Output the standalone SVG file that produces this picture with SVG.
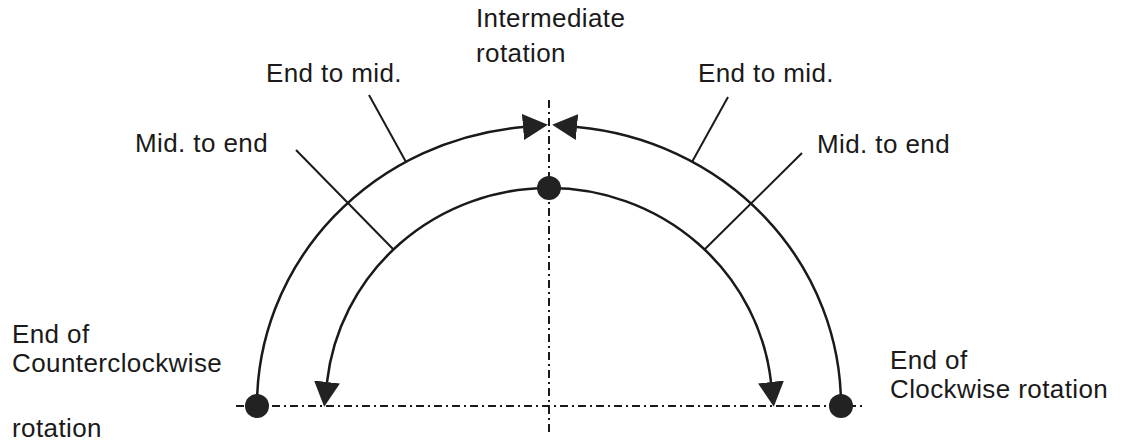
<svg xmlns="http://www.w3.org/2000/svg" width="1124" height="446" viewBox="0 0 1124 446">
<style>
  .lbl { font-family: "Liberation Sans", Arial, sans-serif; font-size: 26px; letter-spacing: 0.4px; fill: #1a1a1a; }
  .arc { fill: none; stroke: #1a1a1a; stroke-width: 2.5; }
  .lead { fill: none; stroke: #1a1a1a; stroke-width: 2; }
  .axis { fill: none; stroke: #1a1a1a; stroke-width: 2; stroke-dasharray: 8 4 2 4; }
  .dot { fill: #222; }
</style>
<defs>
  <marker id="arrow" markerUnits="userSpaceOnUse" viewBox="0 0 25 26" refX="0" refY="13" markerWidth="25" markerHeight="26" orient="auto">
    <path d="M0,0 L25,13 L0,26 z" fill="#222"/>
  </marker>
</defs>
<rect width="1124" height="446" fill="#ffffff"/>
<g id="axes">
  <line class="axis" x1="236" y1="406" x2="862" y2="406"/>
  <line class="axis" x1="549" y1="100" x2="549" y2="432"/>
</g>
<g id="connectors">
  <path class="arc" d="M257,406 A292,280 0 0 1 523,127" marker-end="url(#arrow)"/>
  <path class="arc" d="M841,406 A292,280 0 0 0 577,127" marker-end="url(#arrow)"/>
  <path class="arc" d="M549,188 A223,218 0 0 0 327,382" marker-end="url(#arrow)"/>
  <path class="arc" d="M549,188 A223,218 0 0 1 771,382" marker-end="url(#arrow)"/>
  <line class="lead" x1="369" y1="95" x2="406" y2="162"/>
  <line class="lead" x1="296" y1="150" x2="393" y2="249"/>
  <line class="lead" x1="728" y1="97" x2="692" y2="162"/>
  <line class="lead" x1="802" y1="153" x2="705" y2="249"/>
</g>
<g id="node-ccw-end">
  <circle class="dot" cx="257" cy="406" r="12"/>
  <text class="lbl" x="12" y="343">End of</text>
  <text class="lbl" x="12" y="372">Counterclockwise</text>
  <text class="lbl" x="12" y="437">rotation</text>
</g>
<g id="node-cw-end">
  <circle class="dot" cx="841" cy="406" r="12"/>
  <text class="lbl" x="890" y="369">End of</text>
  <text class="lbl" x="890" y="398">Clockwise rotation</text>
</g>
<g id="node-intermediate">
  <circle class="dot" cx="549" cy="188" r="12"/>
  <text class="lbl" x="476" y="27">Intermediate</text>
  <text class="lbl" x="476" y="62">rotation</text>
</g>
<g id="labels">
  <text class="lbl" x="266" y="82">End to mid.</text>
  <text class="lbl" x="698" y="82">End to mid.</text>
  <text class="lbl" x="135" y="152">Mid. to end</text>
  <text class="lbl" x="817" y="153">Mid. to end</text>
</g>
</svg>
